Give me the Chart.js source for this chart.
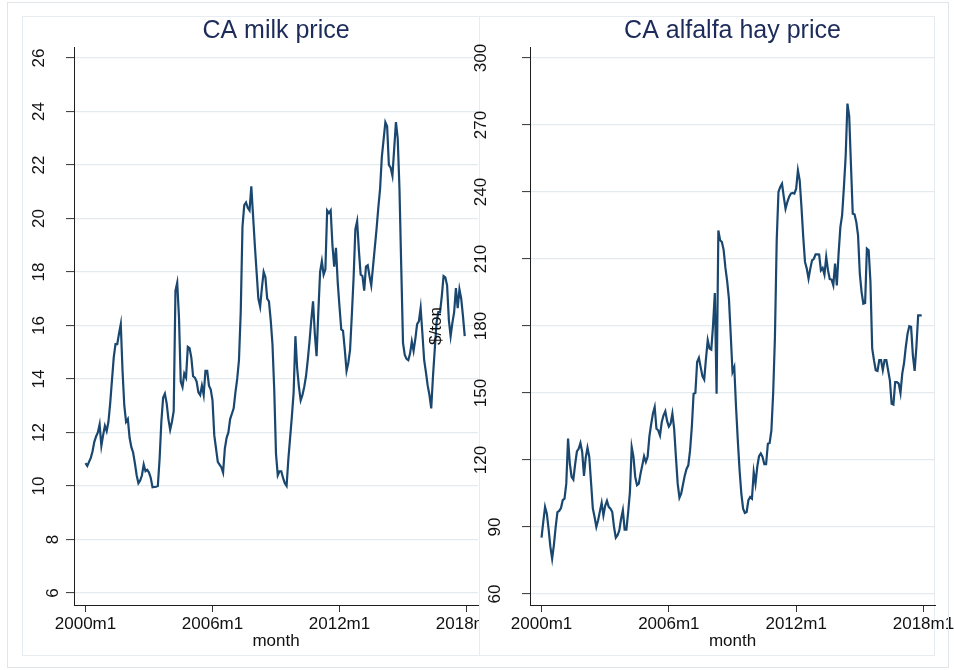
<!DOCTYPE html>
<html>
<head>
<meta charset="utf-8">
<title>CA milk and alfalfa hay prices</title>
<script src="https://cdn.jsdelivr.net/npm/chart.js@4.4.1/dist/chart.umd.min.js"></script>
<style>
  html, body { margin: 0; padding: 0; background: #ffffff; }
  #stage { position: relative; width: 954px; height: 670px; overflow: hidden; background: #ffffff; }
  canvas { position: absolute; top: 0; }
  #milkCanvas { left: 0; z-index: 1; }
  #hayCanvas { left: 420px; z-index: 2; }
  .frame { position: absolute; box-sizing: border-box; pointer-events: none; }
  #leftFrame { left: 22px; top: 16px; width: 480px; height: 640px; border: 1px solid #e6ecef; z-index: 0; }
  #outerFrame { left: 7px; top: 2px; width: 942px; height: 666px; border: 1px solid #dfe5e8; z-index: 3; }
</style>
</head>
<body>
<div id="stage">
  <div id="leftFrame" class="frame"></div>
  <canvas id="milkCanvas" width="560" height="670"></canvas>
  <canvas id="hayCanvas" width="534" height="670"></canvas>
  <div id="outerFrame" class="frame"></div>
</div>
<script>
// Monthly series, 2000m1 .. 2017m12 (one row per year)
const milkPrice = [
  10.85, 10.75, 10.9, 11.05, 11.3, 11.65, 11.85, 12.0, 12.3, 11.5, 11.9, 12.25,
  12.05, 12.4, 13.1, 13.95, 14.8, 15.3, 15.3, 15.7, 16.05, 14.3, 13.0, 12.4,
  12.5, 11.8, 11.45, 11.25, 10.85, 10.4, 10.1, 10.2, 10.4, 10.8, 10.55, 10.6,
  10.5, 10.3, 9.95, 9.96, 9.97, 10.0, 11.0, 12.4, 13.3, 13.45, 13.1, 12.5,
  12.1, 12.4, 12.8, 17.3, 17.6, 16.3, 13.9, 13.7, 14.2, 14.05, 15.2, 15.15,
  14.8, 14.1, 14.05, 13.9, 13.5, 13.4, 13.75, 13.4, 14.3, 14.3, 13.75, 13.6,
  13.2, 11.9, 11.4, 10.9, 10.8, 10.7, 10.5, 11.4, 11.8, 12.0, 12.5, 12.7,
  12.9, 13.5, 14.0, 14.7, 16.5, 19.7, 20.5, 20.6, 20.4, 20.3, 21.2, 20.1,
  19.0, 18.0, 17.0, 16.7, 17.4, 18.0, 17.8, 17.0, 16.9, 16.2, 15.3, 13.6,
  11.2, 10.4, 10.55, 10.55, 10.3, 10.1, 10.0, 11.0, 11.8, 12.6, 13.5, 15.6,
  14.4, 13.7, 13.2, 13.4, 13.7, 14.1, 14.7, 15.4, 16.2, 16.9, 15.7, 14.85,
  16.5, 18.0, 18.4, 17.9, 18.1, 20.3, 20.2, 20.3, 19.0, 18.2, 18.9, 17.6,
  16.7, 15.85, 15.8, 15.1, 14.3, 14.6, 15.1, 16.4, 17.8, 19.6, 19.9, 18.8,
  17.9, 17.85, 17.3, 18.2, 18.25, 17.85, 17.5, 18.2, 18.9, 19.6, 20.4, 21.1,
  22.3, 22.95, 23.6, 23.45, 22.0, 21.9, 21.6, 22.6, 23.6, 23.0, 21.1, 18.2,
  15.35, 14.9, 14.75, 14.7, 14.95, 15.4, 15.05, 15.5, 16.05, 16.15, 16.65, 15.7,
  14.7, 14.25, 13.75, 13.4, 12.9, 14.1, 15.1, 16.1, 16.5, 16.5, 17.1, 17.85,
  17.8, 17.5, 16.2, 15.6, 16.1, 16.5, 17.4, 16.65, 17.35, 17.0, 16.35, 15.6
];

const hayPrice = [
  85.2, 92.4, 99, 96, 89, 81.2, 75.8, 82, 90, 96.7, 97.2, 98.5,
  102, 102.7, 109.4, 129.6, 118.4, 112.4, 111.2, 118, 123.8, 125, 127.6, 123.6,
  112.9, 121, 125.5, 121.4, 110, 98.4, 94.5, 90, 93, 97, 100.8, 95.2,
  99.5, 101.7, 99, 98.2, 96.7, 90, 85.2, 86.3, 88.5, 93.7, 97.5, 88.8,
  88.8, 96.7, 105.7, 125.8, 121.4, 112.4, 108.7, 109.4, 113.9, 117.6, 121.7, 119.1,
  121.4, 130.6, 136, 140.8, 143.7, 134, 133.3, 131, 137, 140, 141.8, 137.5,
  135, 136.3, 140.8, 134, 121.4, 109.4, 103.1, 105, 109, 113, 116, 117.6,
  124.3, 134.8, 149.7, 150, 163.9, 165.8, 161.6, 157.5, 156, 165.4, 173.6, 169.9,
  169.4, 180.3, 194.8, 149.7, 222.8, 218.4, 217.6, 214, 206, 200, 192, 176,
  159.4, 161.6, 143.7, 128.8, 115.4, 104.9, 98.2, 96.3, 96.7, 102, 103.4, 102.7,
  114.6, 109.4, 116.9, 121.7, 122.9, 121.4, 118.1, 118.1, 127.3, 127.6, 133.3, 150,
  175, 218.4, 240, 242.3, 243.7, 237.8, 232.5, 235.5, 237.8, 239.3, 239.6, 239.3,
  241.5, 249.7, 245.2, 233.3, 219.9, 208.7, 205.7, 201.2, 205.7, 209.4, 210.1, 212.1,
  212.1, 212, 204.9, 206, 203, 210.9, 205, 201, 200.8, 198.2, 207.9, 198.2,
  212.4, 224.3, 229.6, 242.2, 256, 279.6, 274, 252, 230.3, 230, 226.6, 220.6,
  203.4, 195.2, 190, 190.3, 214.6, 213.9, 200, 170, 164.7, 160.2, 159.9, 164.7,
  164.7, 160.2, 164.7, 164.7, 160.2, 155.7, 145.2, 144.8, 154.9, 154.9, 154.2, 150,
  158.7, 163.3, 170.6, 176.6, 179.9, 179.6, 167, 159.9, 170.6, 184.8, 184.8, 184.8
];

// Axis ticks (x positions are month offsets from 2000m1)
const monthTicks = [0, 72, 144, 216];
const monthTickLabels = ['2000m1', '2006m1', '2012m1', '2018m1'];
const milkTicks = [6, 8, 10, 12, 14, 16, 18, 20, 22, 24, 26];
const hayTicks = [60, 90, 120, 150, 180, 210, 240, 270, 300];

const FONT = '"Liberation Sans", Arial, Helvetica, sans-serif';
const LINE_COLOR = '#1a476f';
const GRID_COLOR = '#e3ebee';
const AXIS_COLOR = '#1e1e1e';
const TEXT_COLOR = '#111111';
const TITLE_COLOR = '#1c2b59';

Chart.defaults.font.family = FONT;

// Vertical tick labels reading bottom-to-top; shorter labels sit closer to the axis
const verticalTickLabels = {
  id: 'verticalTickLabels',
  afterDraw(chart, args, opts) {
    const scale = chart.scales.y;
    const ctx = chart.ctx;
    ctx.save();
    ctx.font = '17px ' + FONT;
    ctx.fillStyle = TEXT_COLOR;
    ctx.textAlign = 'center';
    ctx.textBaseline = 'middle';
    scale.ticks.forEach(t => {
      const label = String(t.label);
      const w = ctx.measureText(label).width;
      const cx = scale.right - opts.gap - opts.stretch * w;
      const cy = scale.getPixelForValue(t.value);
      ctx.save();
      ctx.translate(cx, cy);
      ctx.rotate(-Math.PI / 2);
      ctx.fillText(label, 0, 0);
      ctx.restore();
    });
    ctx.restore();
  }
};

// White panel backdrop with a faint frame
const panelBackdrop = {
  id: 'panelBackdrop',
  beforeDraw(chart, args, opts) {
    if (!opts.rect) return;
    const [x, y, w, h] = opts.rect;
    const ctx = chart.ctx;
    ctx.save();
    ctx.fillStyle = '#ffffff';
    ctx.fillRect(x, y, w, h);
    ctx.strokeStyle = opts.stroke;
    ctx.lineWidth = 1;
    ctx.strokeRect(x + 0.5, y + 0.5, w - 1, h - 1);
    ctx.restore();
  }
};

function buildPanel(canvas, cfg) {
  return new Chart(canvas, {
    type: 'line',
    data: {
      datasets: [{
        data: cfg.values.map((v, i) => ({ x: i, y: v })),
        borderColor: LINE_COLOR,
        borderWidth: 2.2,
        pointRadius: 0,
        tension: 0,
        fill: false
      }]
    },
    options: {
      responsive: false,
      animation: false,
      devicePixelRatio: 1,
      layout: { padding: cfg.padding },
      plugins: {
        legend: { display: false },
        tooltip: { enabled: false },
        title: {
          display: true,
          text: cfg.title,
          fullSize: false,
          color: TITLE_COLOR,
          font: { size: 25, weight: 'normal' },
          padding: { top: 16, bottom: 1 }
        },
        verticalTickLabels: { gap: 6.5, stretch: 1.5 },
        panelBackdrop: cfg.backdrop || {}
      },
      scales: {
        x: {
          type: 'linear',
          min: -6.52,
          max: 222.52,
          afterBuildTicks: s => { s.ticks = monthTicks.map(v => ({ value: v })); },
          afterFit: s => { s.height = 65; s.paddingLeft = 0; s.paddingRight = 0; },
          ticks: {
            callback: v => monthTickLabels[monthTicks.indexOf(v)],
            color: TEXT_COLOR,
            font: { size: 17 },
            padding: 2,
            maxRotation: 0,
            autoSkip: false
          },
          grid: { drawOnChartArea: false, drawTicks: true, tickLength: 7, tickColor: '#333333', tickWidth: 1 },
          border: { color: AXIS_COLOR, width: 1 },
          title: { display: true, text: 'month', color: TEXT_COLOR, font: { size: 17 }, padding: { top: 0, bottom: 18 } }
        },
        y: {
          min: cfg.yMin,
          max: cfg.yMax,
          afterBuildTicks: s => { s.ticks = cfg.yTicks.map(v => ({ value: v })); },
          afterFit: s => { s.width = cfg.yWidth; s.paddingTop = 0; s.paddingBottom = 0; },
          ticks: { display: false },
          grid: { color: GRID_COLOR, lineWidth: 1.2, drawTicks: true, tickLength: 8, tickColor: '#333333', tickWidth: 1 },
          border: { color: AXIS_COLOR, width: 1 },
          title: cfg.yTitle
            ? { display: true, text: cfg.yTitle, color: TEXT_COLOR, font: { size: 17 }, padding: { top: 6.5, bottom: 0 } }
            : { display: false }
        }
      }
    },
    plugins: [panelBackdrop, verticalTickLabels]
  });
}

buildPanel(document.getElementById('milkCanvas'), {
  title: 'CA milk price',
  values: milkPrice,
  yTicks: milkTicks,
  yMin: 5.55,
  yMax: 26.41,
  yWidth: 74,
  padding: { left: 0, right: 82, top: 0, bottom: 0 }
});

buildPanel(document.getElementById('hayCanvas'), {
  title: 'CA alfalfa hay price',
  values: hayPrice,
  yTicks: hayTicks,
  yMin: 55.07,
  yMax: 304.93,
  yWidth: 110,
  yTitle: '$/ton',
  padding: { left: 0, right: 19, top: 0, bottom: 0 },
  backdrop: { rect: [59, 16, 456, 640], stroke: '#e6ecef' }
});
</script>
</body>
</html>
